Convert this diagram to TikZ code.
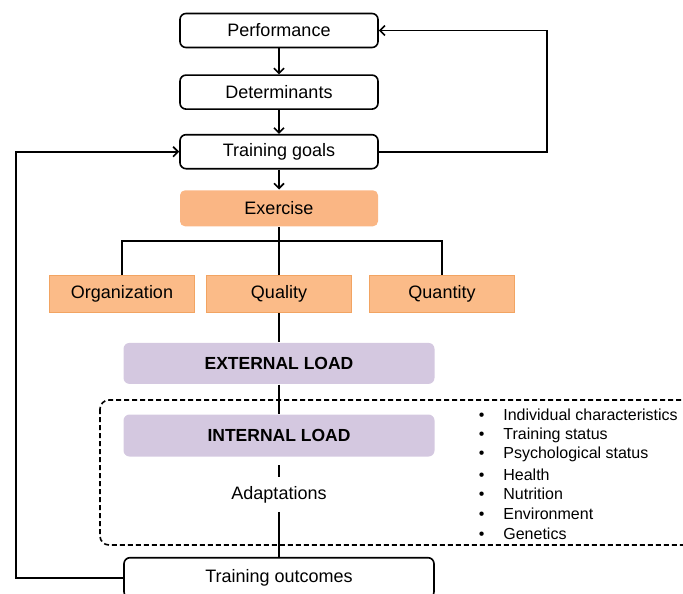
\documentclass[tikz,border=0pt]{standalone}
\usepackage{fontspec}
\setmainfont{Liberation Sans}
\usepackage{xcolor}
\usetikzlibrary{positioning,arrows.meta}
\definecolor{exfill}{HTML}{FAB684}
\definecolor{subfill}{HTML}{FBBB88}
\definecolor{subline}{HTML}{F2A462}
\definecolor{loadfill}{HTML}{D4C8E0}

\begin{document}
\begin{tikzpicture}[
  line width=1.6pt,
  font=\fontsize{18}{20}\selectfont,
  box/.style={rectangle, draw, rounded corners=6pt, minimum width=198pt, minimum height=34pt, inner sep=0pt},
  orangebox/.style={rectangle, fill=exfill, rounded corners=5pt, minimum width=198pt, minimum height=36pt, inner sep=0pt},
  subbox/.style={rectangle, draw=subline, line width=1pt, fill=subfill, minimum width=145pt, minimum height=37pt, inner sep=0pt},
  loadbox/.style={rectangle, fill=loadfill, rounded corners=6pt, minimum width=311pt, minimum height=41pt, inner sep=0pt, font=\fontsize{17.5}{20}\selectfont\bfseries},
  arr/.style={-{Straight Barb[length=5pt,width=10pt]}}
]
\useasboundingbox (0,0) rectangle (683pt,-594pt);
\clip (0,0) rectangle (683pt,-594pt);

\node[box] (perf) at (279pt,-30.5pt) {Performance};
\node[box, below=26pt of perf] (det) {Determinants};
\node[box, below=24pt of det] (goals) {Training goals};
\node[orangebox, below=20pt of goals] (exercise) {Exercise};

\node[subbox, below=48pt of exercise] (quality) {Quality};
\node[subbox, left=11pt of quality] (org) {Organization};
\node[subbox, right=17pt of quality] (quantity) {Quantity};

\node[loadbox, below=29pt of quality] (external) {EXTERNAL LOAD};
\node[loadbox, minimum height=42pt, below=29pt of external] (internal) {INTERNAL LOAD};
\node[minimum height=33pt, inner sep=0pt, below=20pt of internal] (adapt) {Adaptations};
\node[box, minimum width=310pt, minimum height=40pt, below=45pt of adapt] (outcomes) {Training outcomes};

% dashed area for the individual factors
\draw[dashed, dash pattern=on 5pt off 3pt, rounded corners=9pt] (100pt,-400pt) rectangle (720pt,-545pt);

\foreach \t [count=\i] in {Individual characteristics, Training status, Psychological status, Health, Nutrition, Environment, Genetics}
  \node[anchor=west, inner sep=0pt, font=\fontsize{16}{18}\selectfont] (factor\i) at (478pt,-395.5pt-\i*19.7pt) {\textbullet\hspace{19pt}\t};

\draw[arr] (perf) -- (det);
\draw[arr] (det) -- (goals);
\draw[arr] (goals) -- (exercise);
\draw (exercise) -- (quality);
\draw (org.north) -- ++(0,34pt) -| (quantity.north);
\draw (quality) -- (external);
\draw (external) -- (internal);
\draw[shorten <=8pt] (internal) -- (adapt);
\draw (adapt) -- (outcomes);

\draw[arr] (goals.east) -- ++(168pt,0) |- (perf.east);
\draw[arr] (outcomes.west) -- ++(-107pt,0) |- (goals.west);
\end{tikzpicture}
\end{document}
